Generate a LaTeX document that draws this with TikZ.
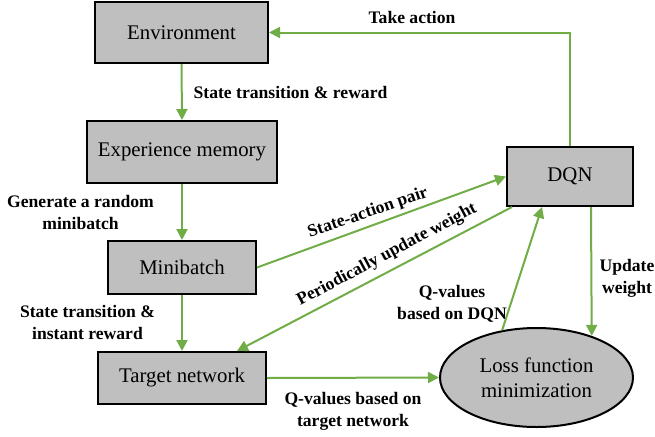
\documentclass[tikz,border=0pt]{standalone}
\usepackage{fontspec}
\setmainfont{Liberation Serif}
\usepackage{xcolor}
\definecolor{flowgreen}{RGB}{112,173,71}
\definecolor{boxgray}{RGB}{191,191,191}
\usepackage{tikz}
\usetikzlibrary{
  shapes.geometric,
  arrows.meta,
  positioning
}

\begin{document}
\begin{tikzpicture}[
  x=0.5pt, y=-0.5pt,
  block/.style={rectangle, draw=black, fill=boxgray, line width=1pt, inner sep=0pt, font=\fontsize{10.4}{12.5}\selectfont, text centered},
  lossnode/.style={ellipse, draw=black, fill=boxgray, line width=1pt, inner sep=0pt, minimum width=96.5pt, minimum height=49.5pt, font=\fontsize{10.4}{12.5}\selectfont, align=center},
  lbl/.style={font=\fontsize{8.8}{11}\selectfont\bfseries, align=center, inner sep=0pt},
  flow/.style={-{Triangle[length=5.5pt, width=5.5pt]}, line width=1pt, flowgreen}
]
  \useasboundingbox (0,0) rectangle (655,436);

  % Left column
  \node[block, minimum width=86.5pt, minimum height=30.5pt] (env) at (181.5,32.5) {Environment};
  \node[block, minimum width=95pt, minimum height=31pt] (mem) at (182,152) {Experience memory};
  \node[block, minimum width=74pt, minimum height=26.5pt] (mini) at (182,267.5) {Minibatch};
  \node[block, minimum width=84pt, minimum height=26pt] (tnet) at (182,378) {Target network};

  % Right side
  \node[block, minimum width=63pt, minimum height=29.5pt] (dqn) at (570,176.5) {DQN};
  \node[lossnode] (loss) at (536.5,377.5) {Loss function\\minimization};

  % Labels
  \node[lbl] (lTake) at (412,17) {Take action};
  \node[lbl] (lTrans) at (290.5,92) {State transition \& reward};
  \node[lbl] (lGen) at (80.5,212) {Generate a random\\minibatch};
  \node[lbl] (lInst) at (87.5,322) {State transition \&\\instant reward};
  \node[lbl, rotate=19] (lPair) at (368,213) {State-action pair};
  \node[lbl, rotate=28] (lPeriod) at (387,255) {Periodically update weight};
  \node[lbl] (lQdqn) at (452,304) {Q-values\\based on DQN};
  \node[lbl] (lUpd) at (627,278) {Update\\weight};
  \node[lbl] (lQtgt) at (353,411) {Q-values based on\\target network};

  % Connectors
  \draw[flow] (env.south) -- (mem.north);
  \draw[flow] (mem.south) -- (mini.north);
  \draw[flow] (mini.south) -- (tnet.north);
  \draw[flow] (dqn.north) |- (env.east);
  \draw[flow] (mini.east) -- (dqn.west);
  \draw[flow] ([xshift=3pt]dqn.south west) -- ([xshift=27.5pt]tnet.north);
  \draw[flow] (loss.126) -- ([xshift=-14pt]dqn.south);
  \draw[flow] ([xshift=10.5pt]dqn.south) -- (loss.37);
  \draw[flow] (tnet.east) -- (loss.west);
\end{tikzpicture}
\end{document}
